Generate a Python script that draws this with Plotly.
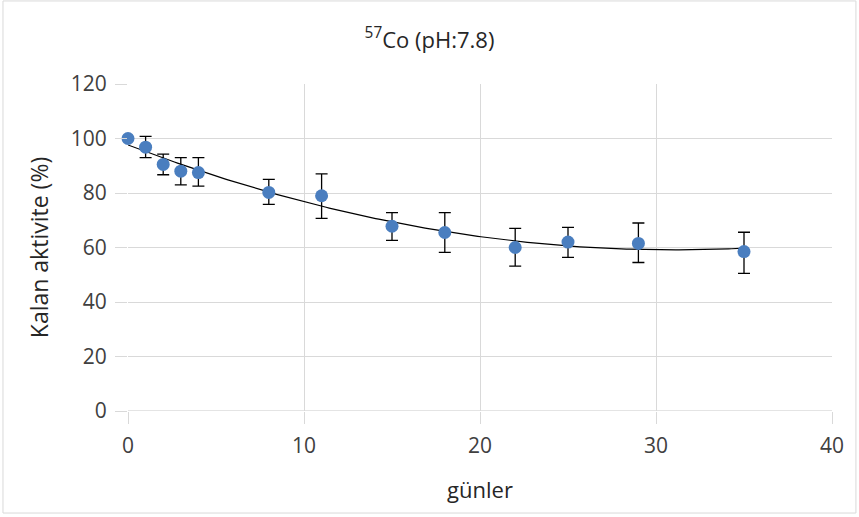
import numpy as np
import plotly.graph_objects as go

days = [0, 1, 2, 3, 4, 8, 11, 15, 18, 22, 25, 29, 35]
activity = [100, 96.8, 90.5, 88.0, 87.5, 80.2, 79.0, 67.8, 65.5, 60.0, 62.0, 61.5, 58.5]
err_plus = [0, 4.0, 3.8, 5.0, 5.5, 4.8, 8.0, 5.0, 7.3, 7.0, 5.4, 7.5, 7.1]
err_minus = [0, 3.8, 3.8, 5.0, 5.0, 4.4, 8.3, 5.2, 7.3, 6.8, 5.6, 7.0, 8.0]

x_ticks = [0, 10, 20, 30, 40]
y_ticks = [0, 20, 40, 60, 80, 100, 120]

# Excel-style polynomial (order 2) trendline fitted to the data
coef = np.polyfit(days, activity, 2)
xt = np.linspace(min(days), max(days), 200)
yt = np.polyval(coef, xt)

fig = go.Figure()
fig.add_trace(go.Scatter(
    x=xt, y=yt, mode="lines",
    line=dict(color="#000000", width=1.2),
    hoverinfo="skip", showlegend=False,
))
fig.add_trace(go.Scatter(
    x=days, y=activity, mode="markers", cliponaxis=False,
    marker=dict(color="#4a7ebf", size=13),
    error_y=dict(type="data", symmetric=False, array=err_plus, arrayminus=err_minus,
                 color="#000000", thickness=1.3, width=6),
    showlegend=False,
))

grid = "#d9d9d9"
font_fam = "Open Sans, DejaVu Sans, sans-serif"
fig.update_layout(
    width=859, height=517,
    margin=dict(l=128, r=27, t=84, b=106),
    paper_bgcolor="white", plot_bgcolor="white",
    font=dict(family=font_fam, color="#404040", size=20),
    title=dict(text="<sup style='font-size:15px'>57</sup>Co (pH:7.8)", x=0.5, xanchor="center",
               y=0.9226, yanchor="middle",
               font=dict(size=22, color="#262626")),
    xaxis=dict(range=[0, 40], tickvals=x_ticks, showgrid=True, gridcolor=grid, gridwidth=1,
               zeroline=False, showline=False, ticks="outside", ticklen=12, tickcolor=grid,
               ticklabelstandoff=4,
               tickfont=dict(size=21, color="#404040"),
               title=dict(text="günler", font=dict(size=22, color="#262626"), standoff=24)),
    yaxis=dict(range=[0, 120], tickvals=y_ticks, showgrid=True, gridcolor=grid, gridwidth=1,
               zeroline=False, showline=False, ticks="outside", ticklen=12, tickcolor=grid,
               ticklabelstandoff=4,
               tickfont=dict(size=21, color="#404040"),
               title=dict(text="Kalan aktivite (%)", font=dict(size=23, color="#262626"), standoff=15)),
)
fig.add_shape(type="line", xref="x", yref="y", x0=0, x1=40, y0=0, y1=0,
              line=dict(color="#c8c8c8", width=1), layer="below")
fig.add_shape(type="rect", xref="paper", yref="paper", x0=-0.1776, x1=1.034, y0=-0.312, y1=1.254,
              line=dict(color="#d9d9d9", width=1), layer="below")
fig.write_html("out.html", config={"displayModeBar": False},
               post_script="document.body.style.margin='0';")
